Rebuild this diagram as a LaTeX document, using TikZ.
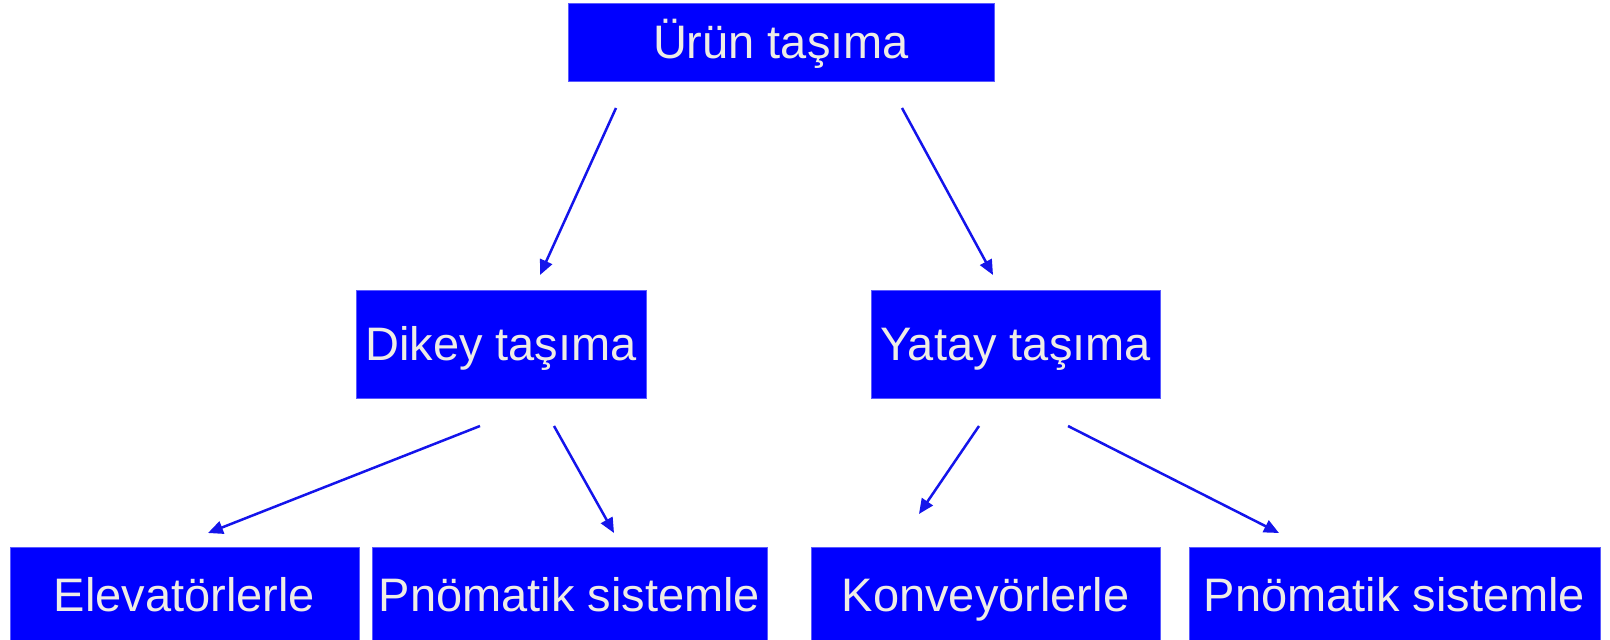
\documentclass[tikz,border=0pt]{standalone}
\usepackage{fontspec}
\setmainfont{Liberation Sans}
\usetikzlibrary{arrows.meta}
\definecolor{boxblue}{RGB}{0,0,255}
\definecolor{boxedge}{RGB}{90,90,255}
\definecolor{txt}{RGB}{238,236,230}
\definecolor{arrowblue}{RGB}{20,20,235}
\begin{document}
\begin{tikzpicture}[x=1pt,y=-1pt,
  box/.style={draw=boxedge,line width=1pt,fill=boxblue,text=txt,inner sep=0pt,
    font=\fontsize{47}{56}\selectfont,text height=33.6pt,text depth=0pt,anchor=center},
  arr/.style={draw=arrowblue,line width=2.5pt,-{Triangle[length=15pt,width=13pt]}}]
\useasboundingbox (0,0) rectangle (1610,640);
\node[box,minimum width=426pt,minimum height=78pt] (top) at (781,42) {Ürün taşıma};
\node[box,minimum width=290pt,minimum height=108pt] (dikey) at (501,344) {Dikey taşıma};
\node[box,minimum width=289pt,minimum height=108pt] (yatay) at (1015.5,344) {Yatay taşıma};
\node[box,minimum width=349pt,minimum height=96pt] (elev) at (184.5,595) {Elevatörlerle};
\node[box,minimum width=395pt,minimum height=96pt] (pn1) at (569.5,595) {Pnömatik sistemle};
\node[box,minimum width=349pt,minimum height=96pt] (konv) at (985.5,595) {Konveyörlerle};
\node[box,minimum width=411pt,minimum height=96pt] (pn2) at (1394.5,595) {Pnömatik sistemle};
\coordinate (a1s) at (616,108); \coordinate (a1e) at (540,275);
\coordinate (a2s) at (902,108); \coordinate (a2e) at (993,275);
\coordinate (a3s) at (480,426); \coordinate (a3e) at (208,533);
\coordinate (a4s) at (554,426); \coordinate (a4e) at (614,533);
\coordinate (a5s) at (979,426); \coordinate (a5e) at (919,514);
\coordinate (a6s) at (1068,426); \coordinate (a6e) at (1279,533);
\draw[arr] (a1s) -- (a1e);
\draw[arr] (a2s) -- (a2e);
\draw[arr] (a3s) -- (a3e);
\draw[arr] (a4s) -- (a4e);
\draw[arr] (a5s) -- (a5e);
\draw[arr] (a6s) -- (a6e);
\end{tikzpicture}
\end{document}
